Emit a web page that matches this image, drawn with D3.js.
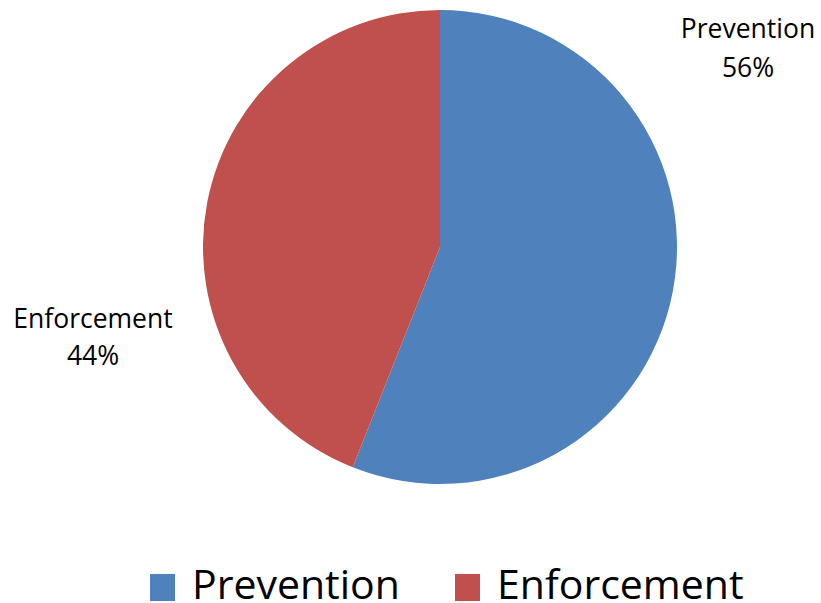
<!DOCTYPE html>
<html><head><meta charset="utf-8">
<script src="https://cdn.jsdelivr.net/npm/d3@7"></script>
<style>body{margin:0;background:#fff}svg{display:block}text{font-family:"Open Sans",sans-serif;fill:#000}</style>
</head><body><svg id="c" width="821" height="603"></svg>
<script>
const categories = ["Prevention", "Enforcement"];
const values = [56, 44];
const colors = ["#4F81BD", "#C0504D"];

const svg = d3.select("#c");
const cx = 440, cy = 247, r = 237;
const pie = d3.pie().sort(null).value(d => d)(values);
const arc = d3.arc().innerRadius(0).outerRadius(r);
const g = svg.append("g").attr("transform", `translate(${cx},${cy})`);
g.selectAll("path").data(pie).join("path")
  .attr("d", arc).attr("fill", (d, i) => colors[i]);

const labelPos = [[748, 38, 77], [93, 328, 365]];
pie.forEach((d, i) => {
  const t = svg.append("text").attr("text-anchor", "middle").attr("font-size", 26.5);
  t.append("tspan").attr("x", labelPos[i][0]).attr("y", labelPos[i][1]).text(categories[i]);
  t.append("tspan").attr("x", labelPos[i][0]).attr("y", labelPos[i][2]).text(Math.round(d.data) + "%");
});

const legX = [150, 455];
categories.forEach((c, i) => {
  svg.append("rect").attr("x", legX[i]).attr("y", 574).attr("width", 25).attr("height", 27).attr("fill", colors[i]);
  svg.append("text").attr("x", legX[i] + 42).attr("y", 599).attr("font-size", 41).text(c);
});
</script></body></html>
